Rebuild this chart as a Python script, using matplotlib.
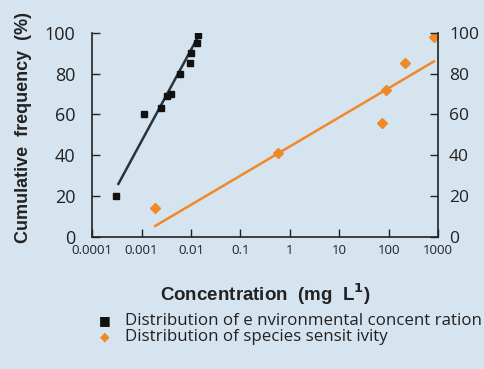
import matplotlib.pyplot as plt
import numpy as np

# environmental concentration distribution (black squares)
env_x = [0.00031, 0.0011, 0.0025, 0.0032, 0.0039, 0.006, 0.0095, 0.010, 0.013, 0.014]
env_y = [20, 60, 63, 69, 70, 80, 85, 90, 95, 99]
env_fit_x = [0.00034, 0.015]
env_fit_y = [26, 99.5]

# species sensitivity distribution (orange diamonds)
ssd_x = [0.0019, 0.58, 75, 87, 220, 830]
ssd_y = [14, 41, 56, 72, 85, 98]
ssd_fit_x = [0.0019, 830]
ssd_fit_y = [5.4, 86]

xticks = [0.0001, 0.001, 0.01, 0.1, 1, 10, 100, 1000]
xlabels = ["0.0001", "0.001", "0.01", "0.1", "1", "10", "100", "1000"]
yticks = [0, 20, 40, 60, 80, 100]

bg = "#d6e4ef"
orange = "#ef8a2a"
dark = "#222222"
plt.rcParams['font.family'] = ['Open Sans', 'DejaVu Sans']

fig = plt.figure(figsize=(4.85, 3.69), dpi=100, facecolor=bg)
ax = fig.add_axes([0.19, 0.358, 0.713, 0.553])
ax.set_facecolor(bg)

ax.plot(env_fit_x, env_fit_y, color="#26343f", lw=1.8)
ax.plot(env_x, env_y, "s", color="#111111", ms=5)
ax.plot(ssd_fit_x, ssd_fit_y, color=orange, lw=1.8)
ax.plot(ssd_x, ssd_y, "D", color=orange, ms=5.5)

ax.set_xscale("log")
ax.set_xlim(1e-4, 1000)
ax.set_ylim(0, 100)
ax.set_xticks(xticks)
ax.set_xticklabels(xlabels)
ax.minorticks_off()
ax.set_yticks(yticks)
ax.spines["top"].set_visible(False)
ax.spines["right"].set_visible(False)
for s in ["left", "bottom"]:
    ax.spines[s].set_color(dark)
    ax.spines[s].set_linewidth(1.2)
ax.tick_params(axis="y", direction="in", length=6, width=1, labelsize=13, pad=12, colors=dark)
ax.tick_params(axis="x", direction="in", length=6, width=1, labelsize=9.5, pad=5, colors=dark)

# right-hand axis, same scale
ax2 = ax.twinx()
ax2.set_ylim(0, 100)
ax2.set_yticks(yticks)
ax2.spines["top"].set_visible(False)
ax2.spines["left"].set_visible(False)
ax2.spines["bottom"].set_visible(False)
ax2.spines["right"].set_color(dark)
ax2.spines["right"].set_linewidth(1.2)
ax2.tick_params(axis="y", direction="in", length=6, width=1, labelsize=12.5, pad=8, colors=dark)

ax.set_ylabel("Cumulative  frequency  (%)", fontsize=13, fontweight="bold",
              family="Liberation Sans", color=dark)
ax.yaxis.set_label_coords(-0.175, 0.535)
ax.set_xlabel(r"Concentration  (mg  L$^{\mathbf{1}}$)", fontsize=13.5, fontweight="bold",
              family="Liberation Sans", color=dark, labelpad=18)

# legend drawn as figure text
fig.text(0.216, 1 - 321 / 369, "\u25a0", fontsize=9, color="#111111", ha="center", va="center")
fig.text(0.258, 1 - 321 / 369, "Distribution of e nvironmental concent ration", fontsize=12.2,
         color=dark, va="center")
fig.text(0.216, 1 - 337 / 369, "\u25c6", fontsize=9, color=orange, ha="center", va="center")
fig.text(0.258, 1 - 337 / 369, "Distribution of species sensit ivity", fontsize=12.2,
         color=dark, va="center")

plt.savefig("out.png", dpi=100, facecolor=bg)
